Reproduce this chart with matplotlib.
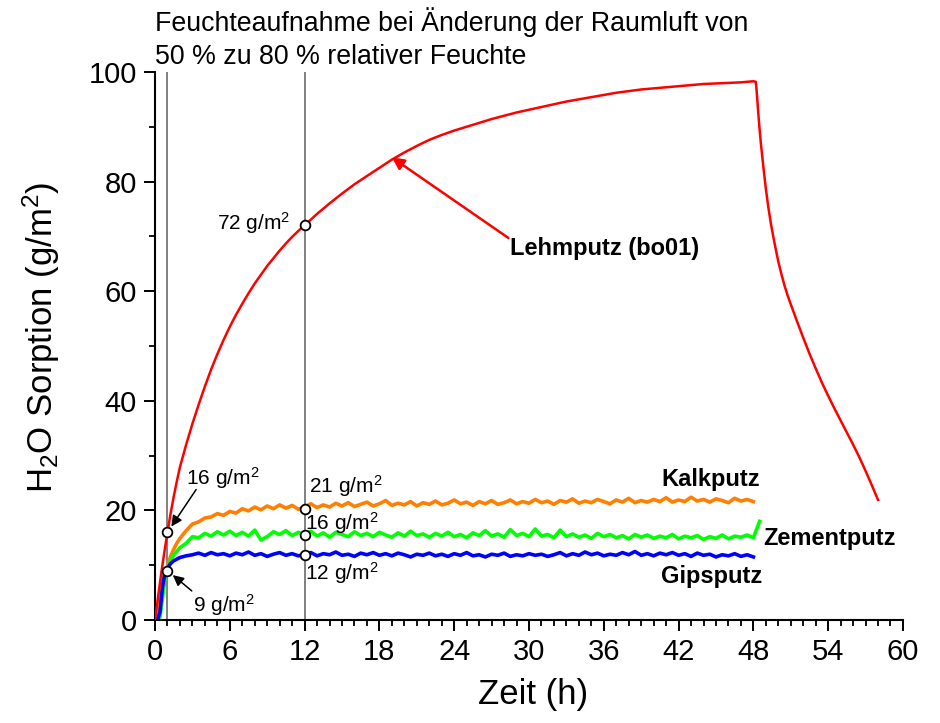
import numpy as np
import matplotlib
matplotlib.use("Agg")
import matplotlib.pyplot as plt
from matplotlib.ticker import MultipleLocator

plt.rcParams['font.family'] = ['Liberation Sans', 'DejaVu Sans']
plt.rcParams['mathtext.fontset'] = 'custom'
plt.rcParams['mathtext.rm'] = 'Liberation Sans'
plt.rcParams['mathtext.it'] = 'Liberation Sans:italic'
plt.rcParams['mathtext.bf'] = 'Liberation Sans:bold'

# --- data ---
# Lehmputz (clay plaster), hours / g per m2
lehm_t = [0, 0.25, 0.5, 0.75, 1, 1.25, 1.5, 1.75, 2, 2.5, 3, 3.5, 4, 4.5, 5,
          5.5, 6, 6.5, 7, 7.5, 8, 8.5, 9, 9.5, 10, 10.5, 11, 11.5, 12,
          13, 14, 15, 16, 17, 18, 19, 20, 21, 22, 23, 24, 25, 26, 27, 28, 29, 30,
          31, 32, 33, 34, 35, 36, 37, 38, 39, 40, 41, 42, 43, 44, 45, 46, 47, 48,
          48.2, 48.3, 48.4, 48.5, 48.6, 48.8, 49.0, 49.2, 49.4, 49.6, 49.8,
          50.0, 50.25, 50.5, 50.75, 51, 51.5, 52, 52.5, 53, 53.5, 54, 54.5, 55,
          55.5, 56, 56.5, 57, 57.5, 58]
lehm_v = [0, 4.3, 8.5, 12.4, 16.0, 19.4, 22.5, 25.3, 27.9, 32.0, 35.8, 39.3,
          42.6, 45.7, 48.5, 51.1, 53.5, 55.7, 57.7, 59.6, 61.4, 63.0, 64.6, 66.0,
          67.4, 68.7, 69.9, 71.0, 72.0,
          74.1, 76.0, 77.8, 79.5, 81.0, 82.5, 84.0, 85.3, 86.5, 87.6, 88.5, 89.3,
          90.0, 90.7, 91.4, 92.0, 92.6, 93.1, 93.6, 94.1, 94.6, 95.0, 95.4, 95.8,
          96.2, 96.5, 96.8, 97.0, 97.2, 97.4, 97.6, 97.8, 97.9, 98.0, 98.1, 98.3,
          98.2, 95.4, 92.3, 89.5, 87.0, 82.7, 78.7, 75.3, 72.4, 69.9, 67.6,
          65.4, 63.1, 61.0, 59.2, 57.6, 54.5, 51.5, 48.6, 45.9, 43.3, 40.9, 38.6,
          36.4, 34.2, 32.0, 29.7, 27.2, 24.6, 21.9]

# early (dense) sampling times for the three mineral plasters
early_t = [0, 0.2, 0.4, 0.6, 0.8, 1.0, 1.25, 1.5, 1.75]

kalk_early = [0, 2.0, 4.9, 7.2, 8.8, 9.9, 11.6, 12.9, 14.0]
kalk_flat = [14.9, 16.3, 17.5, 17.9, 18.6, 18.8, 19.4, 19.1, 19.8, 19.5,
             20.3, 19.9, 20.6, 20.1, 20.8, 20.3, 21.0, 20.4, 20.9, 20.2,
             20.6, 21.2, 20.5, 21.0, 20.6, 21.3, 20.8, 21.4, 20.7, 21.1,
             21.5, 20.8, 21.2, 21.8, 20.9, 21.3, 21.0, 21.6, 20.8, 21.4,
             21.1, 21.7, 21.0, 21.3, 21.9, 21.2, 21.5, 20.9, 21.6, 21.2,
             21.8, 21.1, 21.4, 21.9, 21.2, 21.6, 21.3, 22.0, 21.4, 21.7,
             21.1, 21.8, 21.5, 22.1, 21.3, 21.7, 21.4, 22.0, 21.6, 21.2,
             21.9, 21.5, 22.2, 21.4, 21.8, 21.5, 22.0, 21.6, 22.3, 21.5,
             21.9, 21.6, 22.4, 21.7, 22.0, 21.5, 22.1, 21.8, 21.4, 22.2,
             21.7, 22.0, 21.6]

zement_early = [0, 0, 0.5, 4.0, 7.5, 9.1, 10.8, 11.9, 12.5]
zement_flat = [13.2, 14.0, 15.2, 15.0, 15.8, 15.3, 16.1, 15.5, 16.2, 15.4,
               16.0, 15.3, 16.4, 14.6, 15.2, 16.1, 15.6, 16.3, 15.4, 16.0,
               15.5, 16.2, 15.3, 15.9, 15.1, 16.0, 15.6, 15.2, 16.1, 15.4,
               15.8, 15.2, 16.0, 15.5, 15.1, 15.9, 15.3, 16.2, 15.4, 15.7,
               15.1, 15.8, 15.3, 16.0, 15.2, 15.6, 15.0, 15.9, 15.4, 16.3,
               15.3, 15.7, 15.1, 16.5, 15.4, 15.8, 15.2, 16.6, 15.3, 15.6,
               15.0, 16.4, 15.2, 15.7, 15.1, 15.5, 14.9, 15.8, 15.2, 15.6,
               15.0, 15.4, 14.8, 15.6, 15.1, 15.5, 14.9, 15.3, 15.0, 15.6,
               14.8, 15.3, 15.0, 15.4, 14.7, 15.2, 14.9, 15.5, 14.8, 15.3,
               15.1, 15.5, 15.0, 18.0]

gips_early = [0, 0, 1.5, 6.0, 8.6, 9.4, 10.3, 10.8, 11.1]
gips_flat = [11.4, 11.7, 11.9, 12.2, 11.8, 12.3, 11.9, 12.1, 11.7, 12.2,
             11.9, 12.4, 11.8, 12.1, 11.6, 12.0, 12.3, 11.8, 12.1, 11.7,
             12.0, 12.3, 11.7, 12.1, 11.9, 12.4, 11.8, 12.0, 11.6, 12.2,
             11.9, 12.3, 11.8, 12.1, 11.7, 12.2, 11.9, 11.5, 12.0, 11.8,
             12.2, 11.7, 12.0, 11.6, 12.1, 11.8, 12.3, 11.7, 11.9, 11.5,
             12.0, 11.8, 12.2, 11.6, 11.9, 11.7, 12.1, 11.8, 12.0, 11.6,
             11.9, 12.3, 11.7, 12.1, 11.8, 12.4, 11.9, 12.2, 11.7, 12.0,
             11.8, 12.3, 11.9, 12.5, 11.8, 12.1, 11.7, 12.2, 11.9, 12.3,
             11.8, 12.1, 11.6, 12.2, 11.8, 12.0, 11.5, 11.9, 11.7, 12.1,
             11.6, 11.9, 11.5]

# marked readings at 1 h and 12 h
mark_t = [1, 1, 12, 12, 12, 12]
mark_v = [16, 9, 72, 20.3, 15.5, 11.9]


def series(early_v, flat_v):
    # flat part is sampled every half hour starting at 2 h
    t = list(early_t) + list(2 + 0.5 * np.arange(len(flat_v)))
    return t, list(early_v) + list(flat_v)


fig = plt.figure(figsize=(9.4, 7.23), dpi=100)
ax = fig.add_axes([0.1649, 0.1425, 0.7957, 0.758])

for x in (1, 12):
    ax.axvline(x, color='#808080', lw=1.4, zorder=1)

t, v = series(kalk_early, kalk_flat)
ax.plot(t, v, color='#FF8000', lw=2.6, zorder=2)
t, v = series(zement_early, zement_flat)
ax.plot(t, v, color='#00FF00', lw=2.6, zorder=2)
t, v = series(gips_early, gips_flat)
ax.plot(t, v, color='#0000FF', lw=2.6, zorder=2)
ax.plot(lehm_t, lehm_v, color='#FF0000', lw=1.8, zorder=3)

ax.plot(mark_t, mark_v, 'o', ms=7, mfc='white', mec='black', mew=1.3,
        zorder=5, clip_on=False)

ax.set_xlim(0, 60)
ax.set_ylim(0, 100)
ax.xaxis.set_major_locator(MultipleLocator(6))
ax.xaxis.set_minor_locator(MultipleLocator(1))
ax.yaxis.set_major_locator(MultipleLocator(20))
ax.yaxis.set_minor_locator(MultipleLocator(10))
ax.tick_params(which='major', direction='out', length=8, width=1.4,
               labelsize=21, pad=5)
ax.tick_params(which='minor', direction='out', length=4, width=1.3)
for s in ('top', 'right'):
    ax.spines[s].set_visible(False)
for s in ('left', 'bottom'):
    ax.spines[s].set_linewidth(1.5)

ax.set_xlabel('Zeit (h)', fontsize=25)
ax.xaxis.set_label_coords(0.505, -0.105)
ax.set_ylabel('H$_2$O Sorption (g/m$^2$)', fontsize=25)
ax.yaxis.set_label_coords(-0.125, 0.515)

fig.text(155 / 940, 1 - 7 / 723,
         'Feuchteaufnahme bei Änderung der Raumluft von\n'
         '50 % zu 80 % relativer Feuchte',
         ha='left', va='top', fontsize=19.3, linespacing=1.35)

# value annotations
ann = dict(fontsize=15)
black_arrow = dict(arrowstyle='-|>', color='black', lw=1.1, mutation_scale=16,
                   shrinkA=0, shrinkB=5)
ax.text(2.5, 24.6, '16 g/m$^2$', ha='left', va='baseline', **ann)
ax.annotate('', xy=(1, 16), xytext=(3.3, 23.8), arrowprops=black_arrow)
ax.text(3.05, 1.5, '9 g/m$^2$', ha='left', va='baseline', **ann)
ax.annotate('', xy=(1, 9), xytext=(2.95, 5.3), arrowprops=black_arrow)
ax.text(10.8, 71.2, '72 g/m$^2$', ha='right', va='baseline', **ann)
ax.text(12.35, 23.2, '21 g/m$^2$', ha='left', va='baseline', **ann)
ax.text(12.0, 16.4, '16 g/m$^2$', ha='left', va='baseline', **ann)
ax.text(12.0, 7.3, '12 g/m$^2$', ha='left', va='baseline', **ann)

# series labels
lab = dict(fontsize=17, fontweight='bold')
ax.text(28.5, 66.6, 'Lehmputz (bo01)', ha='left', va='baseline', **lab)
ax.annotate('', xy=(19.0, 84.4), xytext=(28.35, 69.7),
            arrowprops=dict(arrowstyle='-|>', color='#FF0000', lw=1.8,
                            mutation_scale=18, shrinkA=0, shrinkB=0))
ax.text(40.6, 24.5, 'Kalkputz', ha='left', va='baseline', **lab)
ax.text(48.8, 13.7, 'Zementputz', ha='left', va='baseline', **lab)
ax.text(40.6, 6.75, 'Gipsputz', ha='left', va='baseline', **lab)

fig.savefig('out.png', dpi=100)
